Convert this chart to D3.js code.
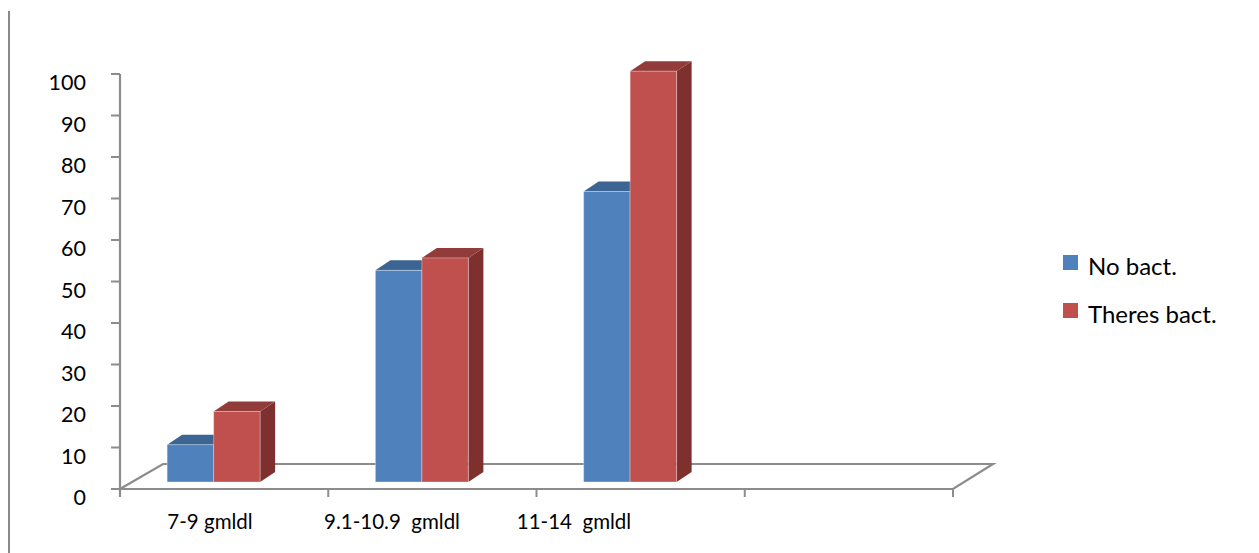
<!DOCTYPE html>
<html>
<head>
<meta charset="utf-8">
<script src="https://cdn.jsdelivr.net/npm/d3@7/dist/d3.min.js"></script>
<style>
  html, body { margin: 0; padding: 0; background: #fff; }
  svg { display: block; }
  text { font-family: Lato, "Open Sans", sans-serif; fill: #000; }
</style>
</head>
<body>
<svg id="chart" width="1259" height="553"></svg>
<script>
// Haemoglobin groups (the fourth slot on the floor is left empty)
const categories = ["7-9 gmldl", "9.1-10.9  gmldl", "11-14  gmldl", ""];
const seriesNames = ["No bact.", "Theres bact."];
const noBact = [9, 51, 70];
const theresBact = [17, 54, 99];
const yTicks = [0, 10, 20, 30, 40, 50, 60, 70, 80, 90, 100];

const colors = {
  "No bact.":     { front: "#4F81BD", top: "#3D6593", side: "#2F4F75" },
  "Theres bact.": { front: "#C0504D", top: "#913C3A", side: "#7E302E" }
};

const W = 1259, H = 553;
const svg = d3.select("#chart");

// front plane of the floor
const left = 120, right = 953, baseY = 489, topY = 74;
// floor depth projection
const floorDx = 40, floorDy = -25;
// bars stand a little back from the front edge
const barLift = 7;
const barDx = 15, barDy = -10;

const x = d3.scaleBand().domain(d3.range(categories.length)).range([left, right]);
const y = d3.scaleLinear().domain([0, 100]).range([baseY, topY]);
// bars within a category, shifted back with the bar plane
const xInner = d3.scaleBand().domain(seriesNames).range([-57, 36]);
// category labels sit under the floor
const xLabel = d3.scaleBand().domain(d3.range(categories.length)).range([119, 847]);

// outer frame line on the left
svg.append("line")
  .attr("x1", 9).attr("x2", 9).attr("y1", 11).attr("y2", H)
  .attr("stroke", "#8a8a8a").attr("stroke-width", 2);

// floor outline
const floorPts = [
  [left, baseY], [right, baseY],
  [right + floorDx, baseY + floorDy], [left + floorDx + 3, baseY + floorDy]
];
svg.append("polygon")
  .attr("points", floorPts.map(p => p.join(",")).join(" "))
  .attr("fill", "none").attr("stroke", "#8c8c8c").attr("stroke-width", 2.2)
  .attr("stroke-linejoin", "miter");

// category tick marks along the front edge
const catTicks = d3.range(categories.length + 1).map(i => i === categories.length ? right : x(i));
svg.append("g").selectAll("line").data(catTicks).join("line")
  .attr("x1", d => d).attr("x2", d => d)
  .attr("y1", baseY).attr("y2", baseY + 8)
  .attr("stroke", "#8c8c8c").attr("stroke-width", 2);

// value axis
const yAxisG = svg.append("g");
yAxisG.append("line")
  .attr("x1", left).attr("x2", left).attr("y1", y(100)).attr("y2", baseY + 8)
  .attr("stroke", "#8c8c8c").attr("stroke-width", 2.2);
yAxisG.selectAll("line.tick").data(yTicks).join("line").attr("class", "tick")
  .attr("x1", left - 9).attr("x2", left)
  .attr("y1", d => y(d)).attr("y2", d => y(d))
  .attr("stroke", "#8c8c8c").attr("stroke-width", 2);
yAxisG.selectAll("text").data(yTicks).join("text")
  .attr("x", 86).attr("y", d => y(d) + 16)
  .attr("text-anchor", "end")
  .style("font-size", "21.5px")
  .text(d => d);

// 3D columns
const series = [
  { name: "No bact.", values: noBact },
  { name: "Theres bact.", values: theresBact }
];
const barW = xInner.bandwidth();
const barsG = svg.append("g");
noBact.forEach((_, i) => {
  series.forEach(s => {
    const v = s.values[i];
    const x0 = x(i) + x.bandwidth() / 2 + xInner(s.name);
    const x1 = x0 + barW;
    const y0 = y(0) - barLift;
    const y1 = y(v) - barLift;
    const c = colors[s.name];
    const g = barsG.append("g");
    // right side
    g.append("polygon")
      .attr("points", [[x1, y1], [x1 + barDx, y1 + barDy], [x1 + barDx, y0 + barDy], [x1, y0]].map(p => p.join(",")).join(" "))
      .attr("fill", c.side);
    // top
    g.append("polygon")
      .attr("points", [[x0, y1], [x0 + barDx, y1 + barDy], [x1 + barDx, y1 + barDy], [x1, y1]].map(p => p.join(",")).join(" "))
      .attr("fill", c.top);
    // front
    g.append("rect")
      .attr("x", x0).attr("y", y1).attr("width", barW).attr("height", y0 - y1)
      .attr("fill", c.front)
      .attr("stroke", "rgba(255,255,255,0.35)").attr("stroke-width", 1);
  });
});

// category labels
svg.append("g").selectAll("text").data(categories).join("text")
  .attr("x", (d, i) => xLabel(i) + xLabel.bandwidth() / 2)
  .attr("y", 529)
  .attr("text-anchor", "middle")
  .attr("xml:space", "preserve")
  .style("white-space", "pre")
  .style("font-size", "20.5px")
  .text(d => d);

// legend
const legend = svg.append("g");
seriesNames.forEach((name, i) => {
  const ly = 255 + i * 48;
  legend.append("rect")
    .attr("x", 1063).attr("y", ly).attr("width", 15).attr("height", 15)
    .attr("fill", colors[name].front);
  legend.append("text")
    .attr("x", 1088).attr("y", ly + 20)
    .style("font-size", "24px")
    .text(name);
});
</script>
</body>
</html>
